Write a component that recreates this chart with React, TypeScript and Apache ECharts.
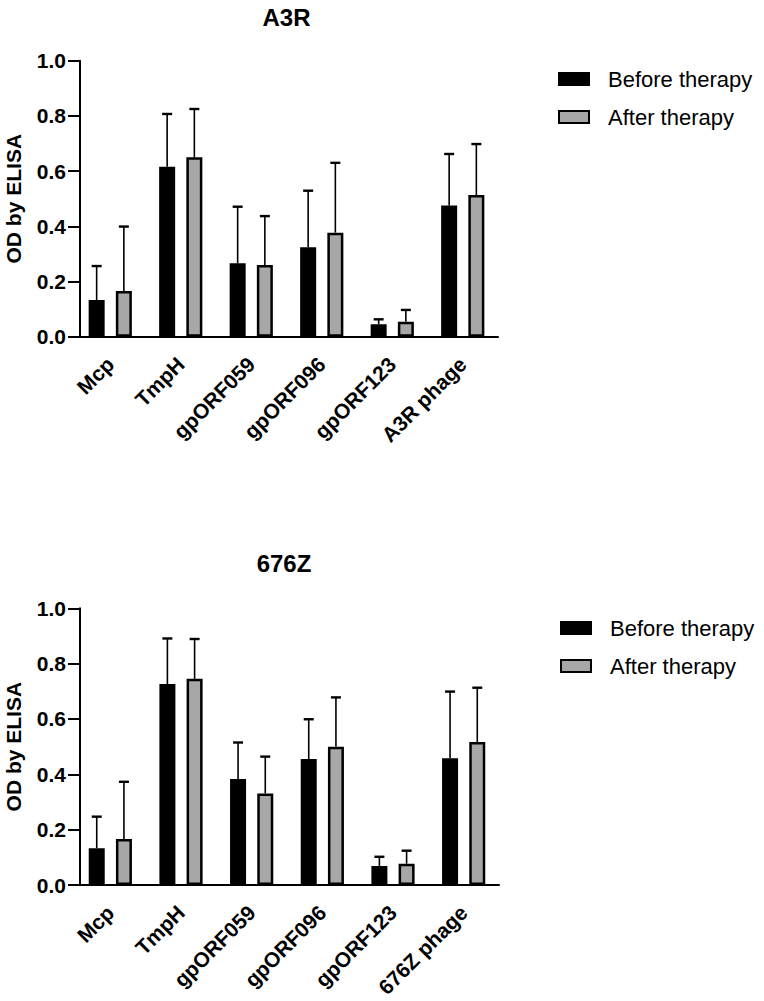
import React, { useEffect, useRef } from "react";
import * as echarts from "echarts";

const FONT = "'Liberation Sans', Arial, Helvetica, sans-serif";

const categoriesA3R = ["Mcp", "TmpH", "gpORF059", "gpORF096", "gpORF123", "A3R phage"];
const categories676Z = ["Mcp", "TmpH", "gpORF059", "gpORF096", "gpORF123", "676Z phage"];
const seriesNames = ["Before therapy", "After therapy"];
const yTicks = [0, 0.2, 0.4, 0.6, 0.8, 1.0];

// A3R panel: means and SDs (upper error bar)
const a3rBefore = [0.133, 0.616, 0.266, 0.324, 0.045, 0.475];
const a3rBeforeSD = [0.123, 0.191, 0.205, 0.205, 0.018, 0.187];
const a3rAfter = [0.166, 0.65, 0.26, 0.377, 0.054, 0.513];
const a3rAfterSD = [0.233, 0.175, 0.177, 0.253, 0.043, 0.185];

// 676Z panel
const z676Before = [0.133, 0.726, 0.383, 0.455, 0.069, 0.458];
const z676BeforeSD = [0.114, 0.165, 0.132, 0.144, 0.033, 0.241];
const z676After = [0.166, 0.745, 0.331, 0.5, 0.077, 0.517];
const z676AfterSD = [0.207, 0.144, 0.133, 0.178, 0.047, 0.196];

const GRAY = "#a7a7a7";
const BAR_W = 16;
const BAR_OFFSET = 13.6;

function errSeries(gridIdx: number, mean: number[], sd: number[], dx: number, name: string) {
  return {
    type: "custom",
    name,
    xAxisIndex: gridIdx,
    yAxisIndex: gridIdx,
    z: 5,
    data: mean.map((m, i) => [i, m, m + sd[i]]),
    renderItem: (params: any, api: any) => {
      const i = api.value(0);
      const lo = api.coord([i, api.value(1)]);
      const hi = api.coord([i, api.value(2)]);
      const x = lo[0] + dx;
      return {
        type: "group",
        children: [
          {
            type: "line",
            shape: { x1: x, y1: lo[1], x2: x, y2: hi[1] },
            style: { stroke: "#000", lineWidth: 1.6 },
          },
          {
            type: "line",
            shape: { x1: x - 5, y1: hi[1], x2: x + 5, y2: hi[1] },
            style: { stroke: "#000", lineWidth: 2.4 },
          },
        ],
      };
    },
  };
}

function barSeries(gridIdx: number, name: string, data: number[], color: string) {
  return {
    type: "bar",
    name,
    xAxisIndex: gridIdx,
    yAxisIndex: gridIdx,
    data,
    barWidth: BAR_W,
    barGap: "70%",
    itemStyle: { color, borderColor: "#000", borderWidth: 2.5 },
    z: 3,
  };
}

function xAxisFor(gridIdx: number, cats: string[]) {
  return {
    type: "category",
    gridIndex: gridIdx,
    data: cats,
    axisLine: { lineStyle: { color: "#000", width: 2 } },
    axisTick: { alignWithLabel: true, length: 10, lineStyle: { color: "#000", width: 2 } },
    axisLabel: {
      rotate: 45,
      interval: 0,
      margin: 24,
      color: "#000",
      fontWeight: "bold",
      fontSize: 21,
      fontFamily: FONT,
    },
  };
}

function yAxisFor(gridIdx: number) {
  return {
    type: "value",
    gridIndex: gridIdx,
    min: yTicks[0],
    max: yTicks[yTicks.length - 1],
    interval: 0.2,
    offset: -5,
    name: "OD by ELISA",
    nameLocation: "middle",
    nameGap: 56,
    nameTextStyle: { color: "#000", fontWeight: "bold", fontSize: 21, fontFamily: FONT },
    splitLine: { show: false },
    axisLine: { show: true, lineStyle: { color: "#000", width: 2 } },
    axisTick: { show: true, length: 12, lineStyle: { color: "#000", width: 2 } },
    axisLabel: {
      margin: 14,
      color: "#000",
      fontWeight: "bold",
      fontSize: 21,
      fontFamily: FONT,
      formatter: (v: number) => v.toFixed(1),
    },
  };
}

function legendAt(left: number, top: number) {
  return {
    left,
    top,
    orient: "vertical",
    padding: 0,
    icon: "rect",
    itemWidth: 30,
    itemHeight: 12,
    itemGap: 14,
    data: seriesNames,
    textStyle: { color: "#000", fontSize: 22, lineHeight: 24, fontFamily: FONT, padding: [0, 0, 0, 14] },
  };
}

export default function App() {
  const ref = useRef<HTMLDivElement>(null);
  useEffect(() => {
    if (!ref.current) return;
    const chart = echarts.init(ref.current, null, { renderer: "svg" });
    const option: any = {
      animation: false,
      backgroundColor: "#fff",
      graphic: [
        {
          type: "text",
          x: 286.5,
          y: 17,
          style: { text: "A3R", align: "center", verticalAlign: "middle", fill: "#000", font: `bold 24px ${FONT}` },
        },
        {
          type: "text",
          x: 284,
          y: 563,
          style: { text: "676Z", align: "center", verticalAlign: "middle", fill: "#000", font: `bold 24px ${FONT}` },
        },
      ],
      legend: [legendAt(558, 67), legendAt(560, 616)],
      grid: [
        { left: 75, top: 60.7, width: 423, height: 276, containLabel: false, outerBoundsMode: "none" },
        { left: 75, top: 608.3, width: 424, height: 276.7, containLabel: false, outerBoundsMode: "none" },
      ],
      xAxis: [xAxisFor(0, categoriesA3R), xAxisFor(1, categories676Z)],
      yAxis: [yAxisFor(0), yAxisFor(1)],
      series: [
        barSeries(0, seriesNames[0], a3rBefore, "#000"),
        barSeries(0, seriesNames[1], a3rAfter, GRAY),
        errSeries(0, a3rBefore, a3rBeforeSD, -BAR_OFFSET, "SD before (A3R)"),
        errSeries(0, a3rAfter, a3rAfterSD, BAR_OFFSET, "SD after (A3R)"),
        barSeries(1, seriesNames[0], z676Before, "#000"),
        barSeries(1, seriesNames[1], z676After, GRAY),
        errSeries(1, z676Before, z676BeforeSD, -BAR_OFFSET, "SD before (676Z)"),
        errSeries(1, z676After, z676AfterSD, BAR_OFFSET, "SD after (676Z)"),
      ],
    };
    chart.setOption(option);
    return () => chart.dispose();
  }, []);
  return (
    <div
      ref={ref}
      style={{ position: "absolute", left: 0, top: 0, width: 764, height: 1001, background: "#fff" }}
    />
  );
}
